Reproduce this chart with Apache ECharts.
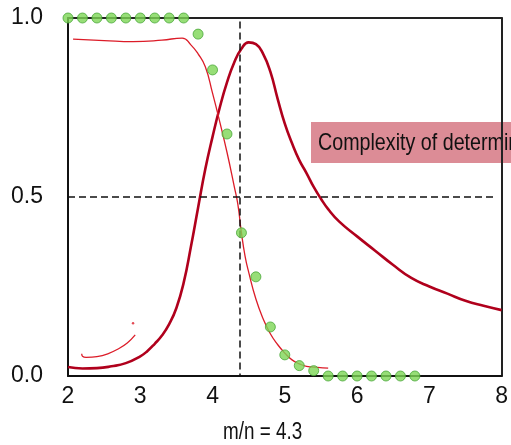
<!DOCTYPE html>
<html>
<head>
<meta charset="utf-8">
<script src="https://cdn.jsdelivr.net/npm/echarts@6/dist/echarts.min.js"></script>
<style>
html,body{margin:0;padding:0;background:#fff;}
#chart{width:511px;height:445px;}
</style>
</head>
<body>
<div id="chart"></div>
<script>
// ---- data ----
var xTicks = [2, 3, 4, 5, 6, 7, 8];
var yTicks = [0.0, 0.5, 1.0];

// green dots: probability of satisfiability
var dotX = [2.0,2.2,2.4,2.6,2.8,3.0,3.2,3.4,3.6,3.8,4.0,4.2,4.4,4.6,4.8,5.0,5.2,5.4,5.6,5.8,6.0,6.2,6.4,6.6,6.8];
var dotY = [1,1,1,1,1,1,1,1,1,0.955,0.855,0.676,0.40,0.277,0.137,0.059,0.029,0.015,0,0,0,0,0,0,0];

// thick dark-red curve: complexity
var cxX = [2.0,2.2,2.4,2.6,2.8,3.0,3.1,3.2,3.3,3.4,3.5,3.6,3.7,3.8,3.9,4.0,4.1,4.2,4.3,4.4,4.5,4.6,4.7,4.8,4.9,5.0,5.1,5.2,5.3,5.4,5.5,5.6,5.75,6.0,6.25,6.5,6.75,7.0,7.25,7.5,7.75,8.0];
var cxY = [0.025,0.021,0.022,0.027,0.036,0.055,0.07,0.09,0.113,0.145,0.19,0.26,0.36,0.47,0.578,0.668,0.75,0.82,0.876,0.914,0.932,0.927,0.9,0.85,0.775,0.705,0.65,0.603,0.567,0.528,0.495,0.466,0.432,0.39,0.35,0.31,0.274,0.25,0.23,0.21,0.196,0.184];

// thin red hand-drawn stroke (top line then descending)
var hdX = [2.07,2.5,2.9,3.3,3.58,3.7,3.8,3.9,4.0,4.1,4.2,4.3,4.35,4.4,4.45,4.5,4.6,4.7,4.8,4.9,5.0,5.1,5.2,5.3,5.45,5.6];
var hdY = [0.941,0.937,0.934,0.938,0.944,0.925,0.90,0.864,0.79,0.71,0.625,0.53,0.48,0.40,0.335,0.29,0.215,0.16,0.118,0.088,0.064,0.045,0.034,0.027,0.024,0.022];

// thin red hand-drawn hook at bottom left
var hkX = [2.19,2.2,2.25,2.4,2.55,2.7,2.82,2.93];
var hkY = [0.062,0.055,0.052,0.054,0.062,0.076,0.092,0.115];
var hkDot = [[2.90,0.147]];

// reference lines
var refY = 0.5;
var refX = 4.37;

var xName = 'm/n = 4.3';
var noteText = 'Complexity of determining satisfiability';

function pairs(xs, ys){ return xs.map(function(x,i){ return [x, ys[i]]; }); }

var FONT = "'Liberation Sans',Arial,sans-serif";

var chart = echarts.init(document.getElementById('chart'), null, {renderer:'canvas'});
chart.setOption({
  animation: false,
  backgroundColor: '#fff',
  grid: {left: 68, right: 4, top: 18, bottom: 69, containLabel: false},
  xAxis: [{
    type: 'value', min: 2, max: 8, interval: 1, position: 'bottom',
    axisLine: {show: true, onZero: false, lineStyle: {color: '#111', width: 2}},
    axisTick: {show: false},
    splitLine: {show: false},
    axisLabel: {fontSize: 23, fontFamily: FONT, color: '#111', margin: 9}
  }, {
    type: 'value', min: 2, max: 8, position: 'top',
    axisLine: {show: true, onZero: false, lineStyle: {color: '#222', width: 2}},
    axisTick: {show: false}, axisLabel: {show: false}, splitLine: {show: false}
  }],
  yAxis: [{
    type: 'value', min: 0, max: 1, interval: 0.5, position: 'left',
    axisLine: {show: true, onZero: false, lineStyle: {color: '#111', width: 2}},
    axisTick: {show: false},
    splitLine: {show: false},
    axisLabel: {fontSize: 23, fontFamily: FONT, color: '#111', margin: 25,
      formatter: function(v){ return v.toFixed(1); }}
  }, {
    type: 'value', min: 0, max: 1, position: 'right',
    axisLine: {show: true, onZero: false, lineStyle: {color: '#222', width: 2}},
    axisTick: {show: false}, axisLabel: {show: false}, splitLine: {show: false}
  }],
  graphic: [
    {type: 'rect', z: -2, shape: {x: 311, y: 122, width: 220, height: 41},
     style: {fill: '#dc8c96'}},
    {type: 'text', z: -1, x: 318, y: 143, scaleX: 0.82,
     style: {text: noteText, fill: '#111', font: '24px ' + FONT, textVerticalAlign: 'middle'}},
    {type: 'text', x: 223, y: 433, scaleX: 0.82,
     style: {text: xName, fill: '#111', font: '23px ' + FONT, textVerticalAlign: 'middle'}}
  ],
  series: [
    {
      type: 'line', name: 'ref', data: [], silent: true,
      markLine: {
        silent: true, symbol: ['none','none'], label: {show: false},
        lineStyle: {color: '#111', width: 1.5, type: [7, 4]},
        data: [
          [{coord: [2, refY]}, {coord: [7.93, refY]}],
          [{coord: [refX, 0.99]}, {coord: [refX, 0]}]
        ]
      }
    },
    {
      type: 'line', name: 'complexity', data: pairs(cxX, cxY), smooth: 0.5,
      showSymbol: false, clip: false, z: 3,
      lineStyle: {color: '#b0001c', width: 2.6}
    },
    {
      type: 'line', name: 'handdrawn', data: pairs(hdX, hdY), smooth: 0.5,
      showSymbol: false, clip: false, z: 4,
      lineStyle: {color: '#dc1c28', width: 1.3}
    },
    {
      type: 'line', name: 'hook', data: pairs(hkX, hkY), smooth: 0.4,
      showSymbol: false, clip: false, z: 4,
      lineStyle: {color: '#dc1c28', width: 1.3}
    },
    {
      type: 'scatter', name: 'hookdot', data: hkDot, symbolSize: 2.5, clip: false, z: 4,
      itemStyle: {color: '#dc1c28'}
    },
    {
      type: 'scatter', name: 'prob', data: pairs(dotX, dotY), symbolSize: 10, clip: false, z: 5,
      itemStyle: {color: '#7dd655', borderColor: '#4aa83a', borderWidth: 1}
    }
  ]
});
</script>
</body>
</html>
